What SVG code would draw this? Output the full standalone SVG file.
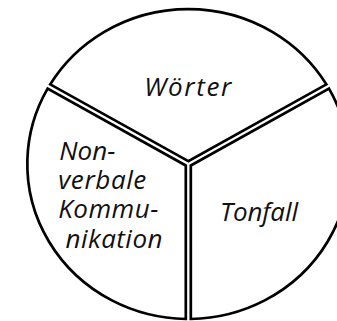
<svg xmlns="http://www.w3.org/2000/svg" width="337" height="321" viewBox="0 0 337 321">
<style>
.sector{fill:#fff;stroke:#000;stroke-width:2.7;stroke-linejoin:miter;stroke-miterlimit:10}
.lbl{font-family:"Open Sans","Liberation Sans",sans-serif;font-style:italic;font-size:26px;fill:#111}
</style>
<rect width="337" height="321" fill="#fff"/>
<g id="woerter">
<path class="sector" d="M188.3 161.14 L50.2 84.38 A161 155 0 0 1 326.4 84.38 Z"/>
<text class="lbl" x="144.3" y="96" textLength="87" lengthAdjust="spacing">Wörter</text>
</g>
<g id="nonverbale">
<path class="sector" d="M185.8 165.47 L47.6 88.67 A161 155 0 0 0 185.8 318.98 Z"/>
<text class="lbl" x="59.3" y="159.5" textLength="56" lengthAdjust="spacing">Non-</text>
<text class="lbl" x="58.3" y="188.5" textLength="88" lengthAdjust="spacing">verbale</text>
<text class="lbl" x="58.3" y="218" textLength="100" lengthAdjust="spacing">Kommu-</text>
<text class="lbl" x="65.5" y="247.5" textLength="97" lengthAdjust="spacing">nikation</text>
</g>
<g id="tonfall">
<path class="sector" d="M190.8 165.47 L329 88.67 A161 155 0 0 1 190.8 318.98 Z"/>
<text class="lbl" x="220" y="221" textLength="78" lengthAdjust="spacing">Tonfall</text>
</g>
<g id="connectors"/>
</svg>
